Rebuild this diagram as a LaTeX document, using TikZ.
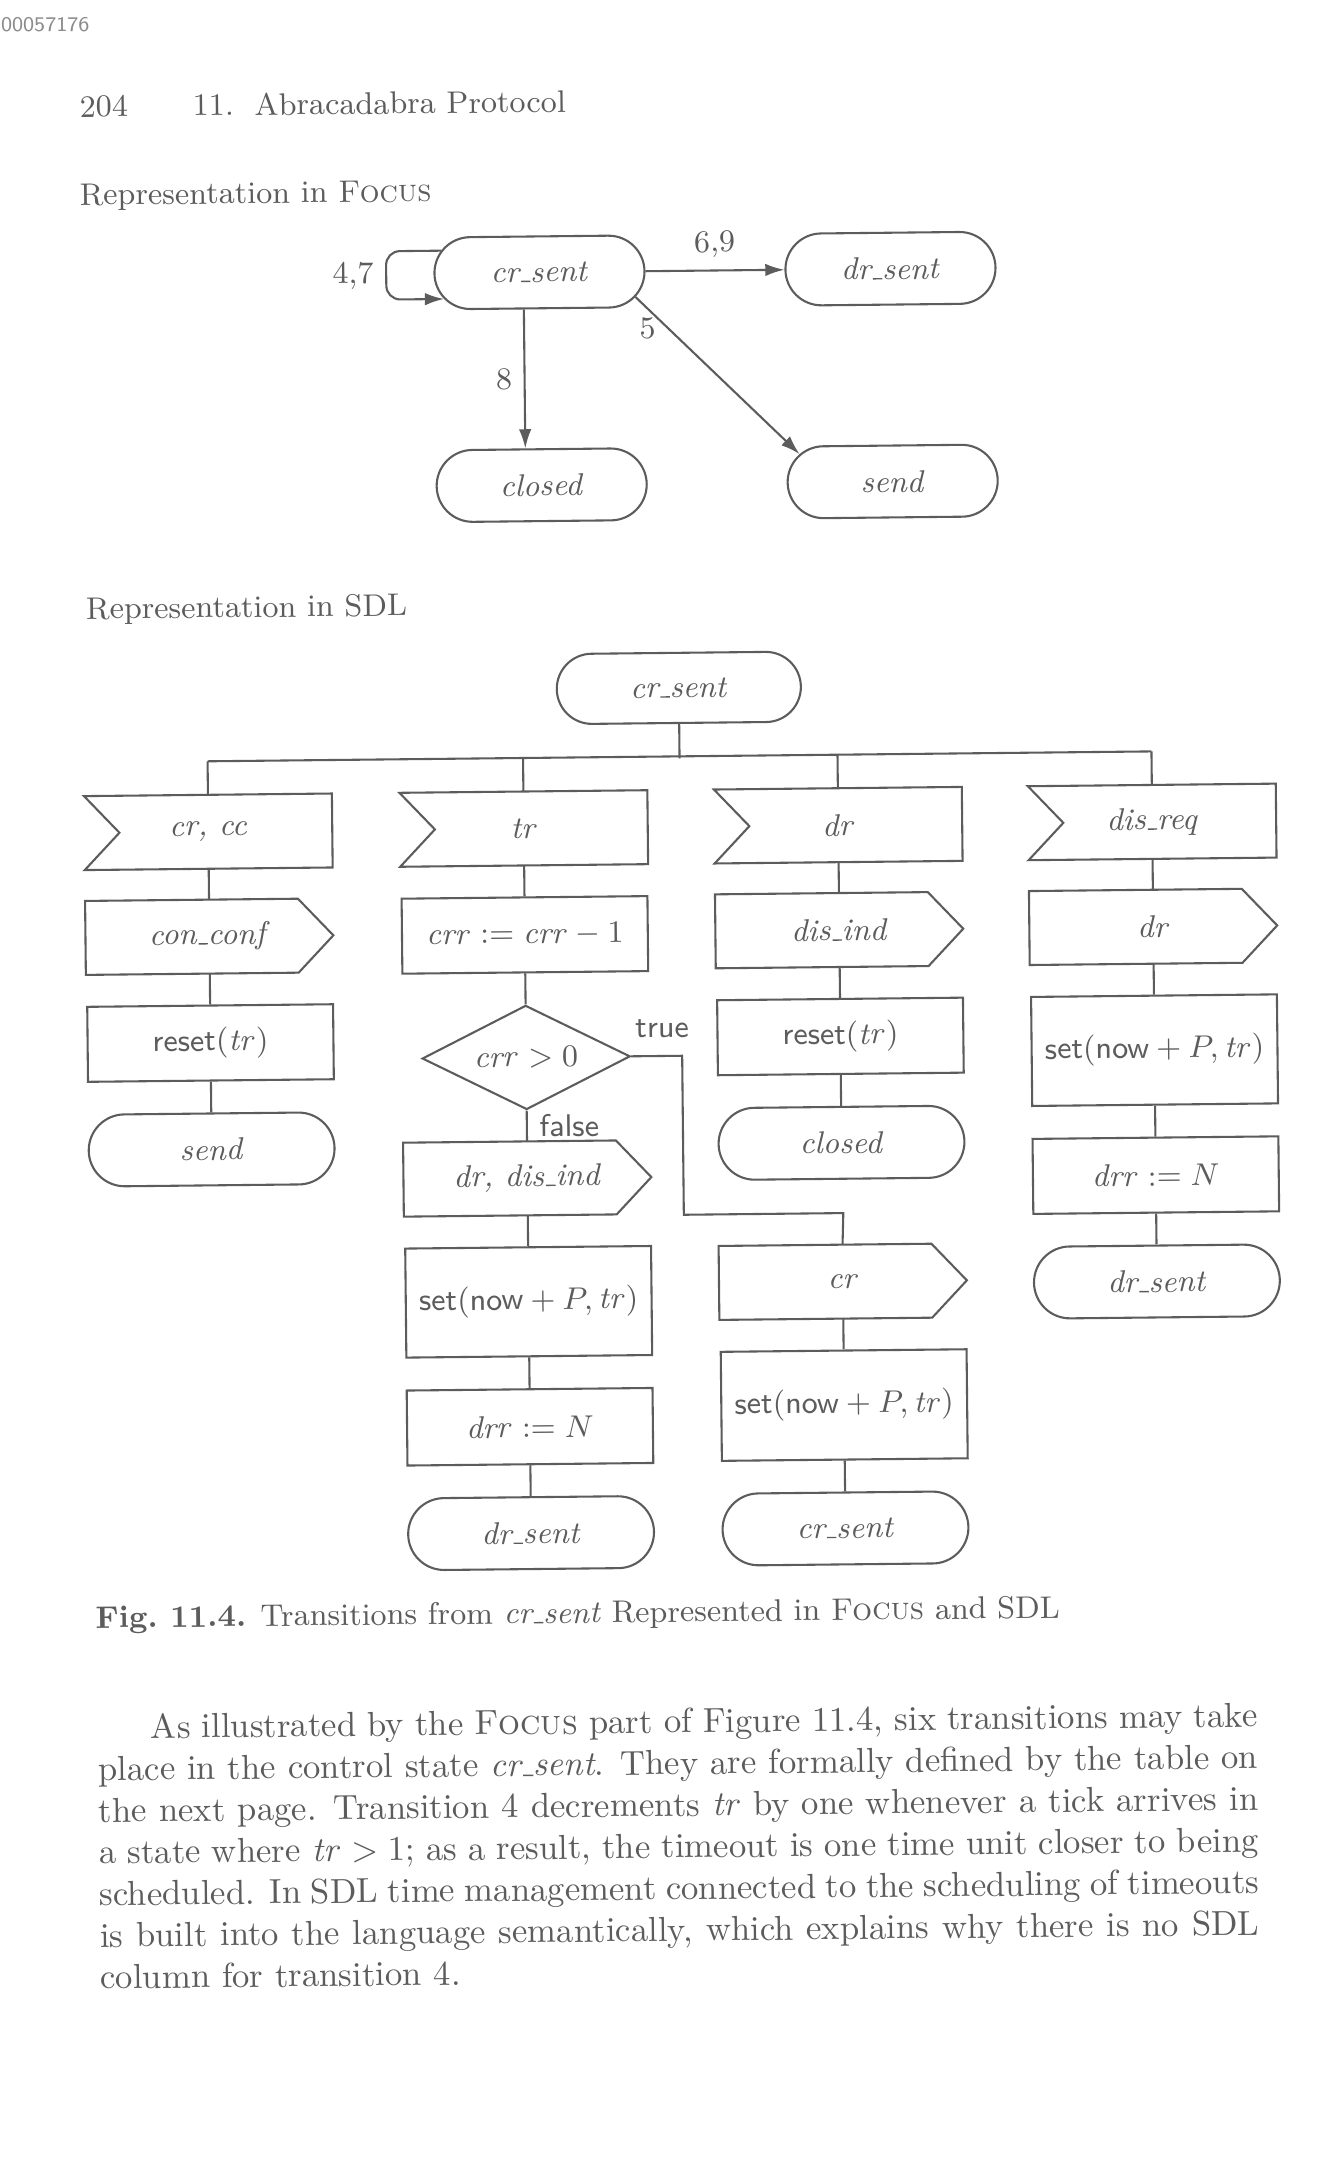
\documentclass[tikz,border=0pt]{standalone}
\usetikzlibrary{arrows.meta,positioning,shapes.misc,shapes.geometric}
\definecolor{ink}{gray}{0.36}
\definecolor{stampgray}{gray}{0.55}
\newcommand{\usc}{\leavevmode\kern.06em\vbox{\hrule width.3em}}

\tikzset{
  arr/.style={-{Latex[length=5.5pt,width=3.6pt]}},
  lbl/.style={font=\small},
  focstate/.style={rounded rectangle, draw, minimum width=60.5pt, minimum height=20.7pt, inner sep=0pt, font=\small},
  sdlbase/.style={draw, minimum width=70.8pt, minimum height=20.7pt, inner sep=0pt, font=\small},
  sdlstate/.style={sdlbase, rounded rectangle},
  sdlin/.style={sdlbase, rectangle, draw=none},
  sdlout/.style={sdlbase, rectangle, draw=none},
  sdltask/.style={sdlbase, rectangle, minimum height=21.6pt},
  sdlset/.style={sdlbase, rectangle, minimum height=31.4pt},
  sdldec/.style={sdlbase, diamond, aspect=2, minimum width=59.9pt, minimum height=30pt},
  plain/.style={anchor=base west, inner sep=0pt}
}

\begin{document}
\begin{tikzpicture}[x=0.288pt, y=-0.288pt, color=ink, line width=0.6pt, node distance=8.9pt]
  % page
  \fill[white] (0,0) rectangle (1337,2174);
  \useasboundingbox (0,0) rectangle (1337,2174);
  \node[plain, text=stampgray, font=\fontsize{6}{7}\selectfont\sffamily] (stamp) at (0,32) {00057176};

  \begin{scope}[rotate around={0.6:(668,1087)}, transform shape]
  % running head
  \node[plain, font=\small] (pageno) at (89,111) {204};
  \node[plain, font=\small] (runhead) at (202,111) {11.\hspace{6pt}Abracadabra Protocol};

  % Focus part
  \node[plain, font=\small] (hfocus) at (88,199) {Representation in \textsc{Focus}};
  \node[focstate] (fcr) at (548,271) {\textit{cr\usc sent}};
  \node[focstate, right=40pt of fcr] (fdr) {\textit{dr\usc sent}};
  \node[focstate, below=40pt of fcr] (fclosed) {\textit{closed}};
  \node[focstate, below=40pt of fdr] (fsend) {\textit{send}};

  \draw[arr] (fcr) -- node[above, lbl] {6,9} (fdr);
  \draw[arr] ([xshift=-4.6pt]fcr.south) -- node[left, lbl] {8} ([xshift=-4.6pt]fclosed.north);
  \draw[arr] (fcr.345) -- node[left, lbl, pos=0.2] {5} (fsend.163);
  \draw[arr, rounded corners=4pt] (fcr.167) -- ++(-55,0) |- node[left, lbl, pos=0.25] {4,7} (fcr.195);

  % SDL part
  \node[plain, font=\small] (hsdl) at (90,613) {Representation in SDL};
  \node[sdlstate, minimum width=70.3pt, minimum height=20.2pt] (start) at (683,688) {\textit{cr\usc sent}};

  \node[sdlin] (in1) at (211,827) {\textit{cr, cc}};
  \node[sdlin] (in2) at (526.5,827) {\textit{tr}};
  \node[sdlin] (in3) at (841,827) {\textit{dr}};
  \node[sdlin] (in4) at (1155,827) {\textit{dis\usc req}};

  % column 1
  \node[sdlout, below=of in1] (out1) {\textit{con\usc conf}};
  \node[sdltask, below=of out1] (task1) {\textsf{reset}$(\mathit{tr})$};
  \node[sdlstate, below=of task1] (end1) {\textit{send}};

  % column 2
  \node[sdltask, below=of in2] (task2) {$\mathit{crr} := \mathit{crr} - 1$};
  \node[sdldec, below=of task2] (dec2) {$\mathit{crr} > 0$};
  \node[sdlout, below=of dec2] (out2) {\textit{dr, dis\usc ind}};
  \node[sdlset, below=of out2] (set2) {\textsf{set}$(\textsf{now} + P, \mathit{tr})$};
  \node[sdltask, below=of set2] (drr2) {$\mathit{drr} := N$};
  \node[sdlstate, below=of drr2] (end2) {\textit{dr\usc sent}};

  % column 3
  \node[sdlout, below=of in3] (out3) {\textit{dis\usc ind}};
  \node[sdltask, below=of out3] (task3) {\textsf{reset}$(\mathit{tr})$};
  \node[sdlstate, below=of task3] (closed3) {\textit{closed}};
  \node[sdlout, below=18.7pt of closed3] (cr3) {\textit{cr}};
  \node[sdlset, below=of cr3] (set3) {\textsf{set}$(\textsf{now} + P, \mathit{tr})$};
  \node[sdlstate, below=of set3] (end3) {\textit{cr\usc sent}};

  % column 4
  \node[sdlout, below=of in4] (out4) {\textit{dr}};
  \node[sdlset, below=of out4] (set4) {\textsf{set}$(\textsf{now} + P, \mathit{tr})$};
  \node[sdltask, below=of set4] (drr4) {$\mathit{drr} := N$};
  \node[sdlstate, below=of drr4] (end4) {\textit{dr\usc sent}};

  % input and output symbols
  \foreach \n in {in1,in2,in3,in4}
    \draw (\n.north west) -- (\n.north east) -- (\n.south east) -- (\n.south west)
      -- ([xshift=10.1pt]\n.west) -- cycle;
  \foreach \n in {out1,out2,out3,out4,cr3}
    \draw (\n.north west) -- ([xshift=-10.1pt]\n.north east) -- (\n.east)
      -- ([xshift=-10.1pt]\n.south east) -- (\n.south west) -- cycle;

  % branching bus
  \draw (start.south) -- ++(0,34.5);
  \draw (in1.north) -- ++(0,-33.5) coordinate (b1);
  \draw (in2.north) -- ++(0,-33.5);
  \draw (in3.north) -- ++(0,-33.5);
  \draw (in4.north) -- ++(0,-33.5) coordinate (b4);
  \draw (b1) -- (b4);

  \draw (in1) -- (out1) -- (task1) -- (end1);
  \draw (in2) -- (task2) -- (dec2);
  \draw (dec2) -- node[right, font=\small\sffamily] {false} (out2);
  \draw (out2) -- (set2) -- (drr2) -- (end2);
  \draw (dec2.east) node[anchor=south west, inner sep=0pt, xshift=1pt, yshift=5pt, font=\small\sffamily] {true}
    -- ++(51,0) -- ++(0,159) -- ++(159.5,0) -- (cr3.north);
  \draw (in3) -- (out3) -- (task3) -- (closed3);
  \draw (cr3) -- (set3) -- (end3);
  \draw (in4) -- (out4) -- (set4) -- (drr4) -- (end4);

  % caption and text
  \node[plain, font=\small] (caption) at (89,1622) {\textbf{Fig.\ 11.4.} Transitions from \textit{cr\usc sent} Represented in \textsc{Focus} and SDL};
  \node[anchor=north west, inner sep=0pt, text width=334pt, align=justify, font=\fontsize{10}{12}\selectfont] (para) at (90,1707)
    {\hspace*{15.3pt}As illustrated by the \textsc{Focus} part of Figure 11.4, six transitions may take\linebreak
     place in the control state \textit{cr\usc sent}. They are formally defined by the table on\linebreak
     the next page. Transition 4 decrements \textit{tr} by one whenever a tick arrives in\linebreak
     a state where $\mathit{tr} > 1$; as a result, the timeout is one time unit closer to being\linebreak
     scheduled. In SDL time management connected to the scheduling of timeouts\linebreak
     is built into the language semantically, which explains why there is no SDL\linebreak
     column for transition 4.};
  \end{scope}
\end{tikzpicture}
\end{document}
